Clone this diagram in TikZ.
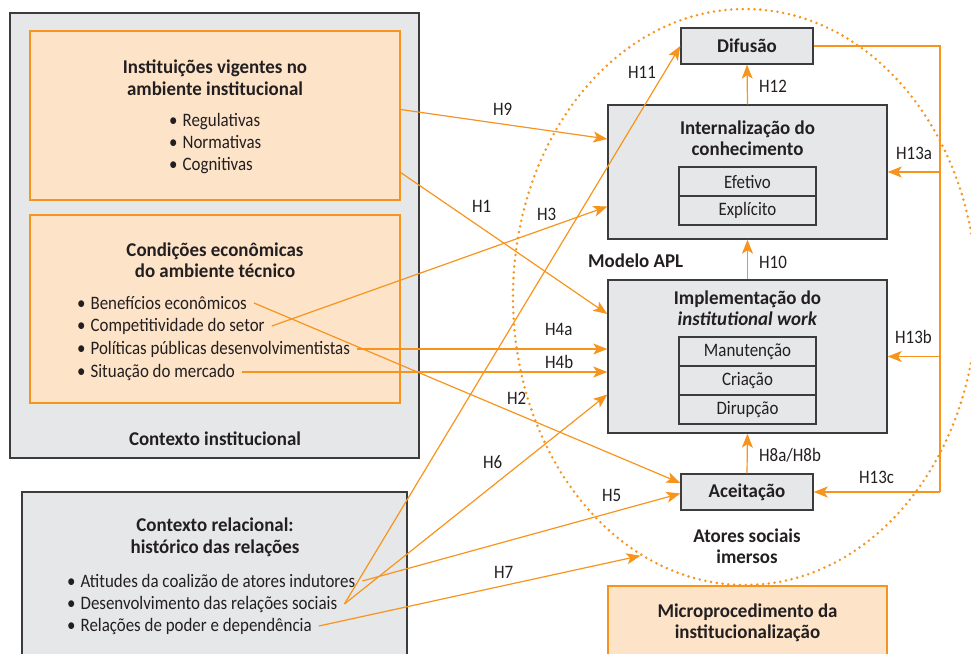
\documentclass[tikz,border=0pt]{standalone}
\usepackage{fontspec}
\setmainfont{Carlito}[FakeStretch=0.89]
\newfontfamily\ttlfont{Carlito}[FakeStretch=0.97]
\usepackage{xcolor}
\usetikzlibrary{arrows.meta,calc,shapes.geometric}

\tikzset{
  txt/.style={text={rgb, 255:red, 35; green, 31; blue, 32 }, inner sep=0pt, font=\fontsize{19}{22}\selectfont},
  ttl/.style={txt, align=center, font=\ttlfont\bfseries\fontsize{19.5}{21.5}\selectfont},
  itm/.style={txt, anchor=west, inner xsep=7pt},
  graybox/.style={draw={rgb, 255:red, 60; green, 60; blue, 62 }, line width=1.4pt, fill={rgb, 255:red, 230; green, 231; blue, 232 }, inner sep=0pt},
  peachbox/.style={draw={rgb, 255:red, 247; green, 148; blue, 29 }, line width=1.3pt, fill={rgb, 255:red, 253; green, 227; blue, 200 }, inner sep=0pt},
  cell/.style={graybox, line width=1.3pt, minimum width=137, minimum height=29, txt},
  hyp/.style={draw={rgb, 255:red, 247; green, 148; blue, 29 }, line width=1.2pt, -{Stealth[length=14pt,width=11pt,inset=3.5pt]}},
  fbline/.style={draw={rgb, 255:red, 247; green, 148; blue, 29 }, line width=1.2pt},
}

\begin{document}
\begin{tikzpicture}[x=1pt,y=1pt,yscale=-1,xscale=1]
\useasboundingbox (0,0) rectangle (971,653);
\clip (0,0) rectangle (971,653);

%Shape: Rectangle
\node[graybox, minimum width=409, minimum height=445] (ctxinst) at (214.5,235.5) {};
\node[peachbox, minimum width=370, minimum height=169] (instvig) at (215,115.5) {};
\node[peachbox, minimum width=370, minimum height=188] (condecon) at (215,309) {};
\node[graybox, minimum width=385, minimum height=188] (ctxrel) at (214.5,586) {};

%Shape: Ellipse
\node[ellipse, draw={rgb, 255:red, 247; green, 148; blue, 29 }, line width=2.8pt, line cap=round, dash pattern=on 0pt off 5.8pt, minimum width=464, minimum height=576, inner sep=0pt] (apl) at (745,297) {};

%Shape: Rectangle
\node[graybox, minimum width=132, minimum height=36] (difusao) at (747,46) {};
\node[graybox, minimum width=279, minimum height=134] (intern) at (747.5,172) {};
\node[graybox, minimum width=279, minimum height=153] (implem) at (747.5,356.5) {};
\node[graybox, minimum width=132, minimum height=36] (aceit) at (747,492) {};
\node[peachbox, minimum width=279, minimum height=94] (micro) at (747.5,633) {};
\node[cell] (efetivo) at (747.5,181.5) {Efetivo};
\node[cell] (explicito) at (747.5,210.5) {Explícito};
\node[cell] (manut) at (747.5,351.5) {Manutenção};
\node[cell] (criacao) at (747.5,380.5) {Criação};
\node[cell] (dirup) at (747.5,409.5) {Dirupção};

% Text Node
\node[ttl] (tinstvig) at (215,77.5) {Instituições vigentes no\\ambiente institucional};
\node[txt, anchor=west, align=left] (instlist) at (169,144) {\textbullet\hspace{5pt}Regulativas\\\textbullet\hspace{5pt}Normativas\\\textbullet\hspace{5pt}Cognitivas};
\node[ttl] (tcondecon) at (215,260) {Condições econômicas\\do ambiente técnico};
\node[itm] (benef) at (70,303) {\textbullet\hspace{5pt}Benefícios econômicos};
\node[itm] (compet) at (70,326) {\textbullet\hspace{5pt}Competitividade do setor};
\node[itm] (polit) at (70,349) {\textbullet\hspace{5pt}Políticas públicas desenvolvimentistas};
\node[itm] (situa) at (70,372) {\textbullet\hspace{5pt}Situação do mercado};
\node[ttl] (tctxinst) at (215,439) {Contexto institucional};
\node[ttl] (tctxrel) at (215,537.5) {Contexto relacional:\\histórico das relações};
\node[itm] (atit) at (60,581) {\textbullet\hspace{5pt}Atitudes da coalizão de atores indutores};
\node[itm] (desenv) at (60,604) {\textbullet\hspace{5pt}Desenvolvimento das relações sociais};
\node[itm] (relac) at (60,626) {\textbullet\hspace{5pt}Relações de poder e dependência};
\node[ttl] (tdifusao) at (difusao) {Difusão};
\node[ttl] (tintern) at (747.5,138) {Internalização do\\conhecimento};
\node[ttl] (timplem) at (747.5,308) {Implementação do\\\textit{institutional work}};
\node[ttl] (taceit) at (aceit) {Aceitação};
\node[ttl, anchor=west] (tmodelo) at (588,261) {Modelo APL};
\node[ttl] (tatores) at (747,546) {Atores sociais\\imersos};
\node[ttl] (tmicro) at (747.5,623) {Microprocedimento da\\institucionalização};

%Straight Lines
\coordinate (fbtop) at (940,46);
\coordinate (fbbot) at (940,492);
\draw[fbline] (difusao.east) -- (fbtop) -- (fbbot);
\draw[hyp] (fbtop |- intern.east) -- (intern.east);
\draw[hyp] (fbtop |- implem.east) -- (implem.east);
\draw[hyp] (fbbot) -- (aceit.east);
\draw[hyp] (intern.north) -- (difusao.south);
\draw[hyp] (implem.north) -- (intern.south);
\draw[hyp] (aceit.north) -- (implem.south);
\draw[hyp] ([yshift=-6]instvig.east) -- ([yshift=-33]intern.west);
\draw[hyp] ([yshift=57]instvig.east) -- ([yshift=-42.5]implem.west);
\draw[hyp] (compet.east) -- ([yshift=34.5]intern.west);
\draw[hyp] (polit.east) -- (polit.east -| implem.west);
\draw[hyp] (situa.east) -- (situa.east -| implem.west);
\draw[hyp] (benef.east) -- ([yshift=-9]aceit.west);
\draw[hyp] (desenv.east) -- (difusao.west);
\draw[hyp] (desenv.east) -- ([yshift=38]implem.west);
\draw[hyp] (atit.east) -- ([yshift=1.5]aceit.west);
\draw[hyp] (relac.east) -- (apl.248);

% Text Node
\node[txt, anchor=west] (h1) at (472,206) {H1};
\node[txt, anchor=west] (h2) at (507,398) {H2};
\node[txt, anchor=west] (h3) at (537,214) {H3};
\node[txt, anchor=west] (h4a) at (545,329) {H4a};
\node[txt, anchor=west] (h4b) at (545,362) {H4b};
\node[txt, anchor=west] (h5) at (602,495) {H5};
\node[txt, anchor=west] (h6) at (483,462) {H6};
\node[txt, anchor=west] (h7) at (494,572) {H7};
\node[txt, anchor=west] (h8) at (759,455) {H8a/H8b};
\node[txt, anchor=west] (h9) at (493,109) {H9};
\node[txt, anchor=west] (h10) at (759,262) {H10};
\node[txt, anchor=west] (h11) at (628,72) {H11};
\node[txt, anchor=west] (h12) at (759,86) {H12};
\node[txt, anchor=west] (h13a) at (896,153) {H13a};
\node[txt, anchor=west] (h13b) at (895,337) {H13b};
\node[txt, anchor=west] (h13c) at (859,477) {H13c};
\end{tikzpicture}
\end{document}
